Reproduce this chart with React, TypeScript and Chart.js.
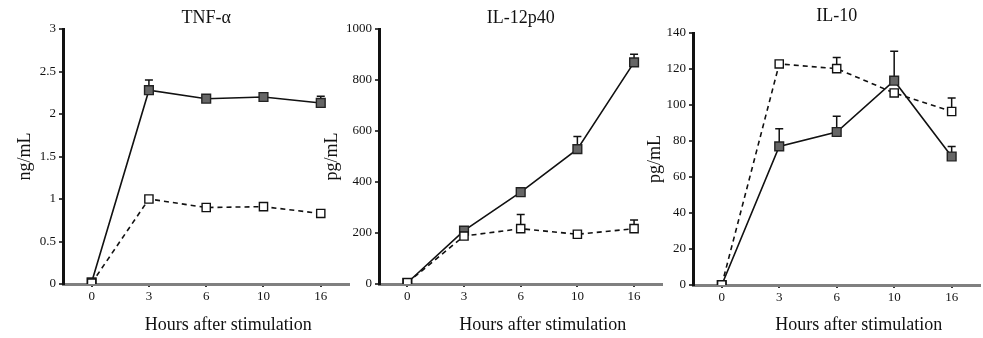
import React, { useEffect, useRef } from "react";
import { Chart, registerables } from "chart.js";
Chart.register(...registerables);

// ---- data ----
const hours = ["0", "3", "6", "10", "16"];

const tnfStimulated = [0.02, 2.28, 2.18, 2.2, 2.13];
const tnfStimulatedErr = [0, 0.12, 0, 0, 0.08];
const tnfControl = [0.01, 1.0, 0.9, 0.91, 0.83];
const tnfControlErr = [0, 0, 0, 0, 0];

const il12Stimulated = [5, 209, 360, 529, 869];
const il12StimulatedErr = [0, 0, 0, 49, 32];
const il12Control = [5, 188, 217, 195, 217];
const il12ControlErr = [0, 0, 56, 0, 34];

const il10Stimulated = [0, 77, 85, 113.5, 71.4];
const il10StimulatedErr = [0, 9.8, 8.7, 16.3, 5.6];
const il10Control = [0, 122.8, 120.2, 106.7, 96.4];
const il10ControlErr = [0, 0, 6.2, 0, 7.5];

const FONT = "'Liberation Serif', 'Times New Roman', serif";

type PanelDef = {
  title: string;
  yTitle: string;
  yMax: number;
  step: number;
  stim: number[];
  stimErr: number[];
  ctrl: number[];
  ctrlErr: number[];
  left: number;
  width: number;
  yAxisWidth: number;
  yTitlePad: number;
  xAxisHeight: number;
  titleTop: number;
  titleBottom: number;
};

const panels: PanelDef[] = [
  {
    title: "TNF-α", yTitle: "ng/mL", yMax: 3, step: 0.5,
    stim: tnfStimulated, stimErr: tnfStimulatedErr, ctrl: tnfControl, ctrlErr: tnfControlErr,
    left: 0, width: 357, yAxisWidth: 63, yTitlePad: 14, xAxisHeight: 54, titleTop: 7, titleBottom: 0.4,
  },
  {
    title: "IL-12p40", yTitle: "pg/mL", yMax: 1000, step: 200,
    stim: il12Stimulated, stimErr: il12StimulatedErr, ctrl: il12Control, ctrlErr: il12ControlErr,
    left: 300, width: 370, yAxisWidth: 79, yTitlePad: 21, xAxisHeight: 54, titleTop: 7, titleBottom: 0.4,
  },
  {
    title: "IL-10", yTitle: "pg/mL", yMax: 140, step: 20,
    stim: il10Stimulated, stimErr: il10StimulatedErr, ctrl: il10Control, ctrlErr: il10ControlErr,
    left: 625, width: 363, yAxisWidth: 68, yTitlePad: 19, xAxisHeight: 53, titleTop: 5, titleBottom: 6.4,
  },
];

const errorBarPlugin = {
  id: "errBars",
  beforeDatasetsDraw(chart: any, _args: any, opts: any) {
    const errs: number[][] = opts.errs || [];
    const ys = chart.scales.y;
    const ctx = chart.ctx;
    ctx.save();
    ctx.strokeStyle = "#111";
    ctx.lineWidth = 1.5;
    chart.data.datasets.forEach((ds: any, i: number) => {
      const meta = chart.getDatasetMeta(i);
      const e = errs[i] || [];
      meta.data.forEach((pt: any, j: number) => {
        if (!e[j]) return;
        const top = ys.getPixelForValue(ds.data[j] + e[j]);
        ctx.beginPath();
        ctx.moveTo(pt.x, pt.y);
        ctx.lineTo(pt.x, top);
        ctx.moveTo(pt.x - 4, top);
        ctx.lineTo(pt.x + 4, top);
        ctx.stroke();
      });
    });
    ctx.restore();
  },
};

const xTitlePlugin = {
  id: "xTitle",
  afterDraw(chart: any, _args: any, opts: any) {
    const ctx = chart.ctx;
    const a = chart.chartArea;
    ctx.save();
    ctx.fillStyle = "#111";
    ctx.font = `18px ${FONT}`;
    ctx.textAlign = "center";
    ctx.textBaseline = "middle";
    ctx.fillText(opts.text, (a.left + a.right) / 2 + opts.dx, opts.y);
    ctx.restore();
  },
};

function Panel({ p }: { p: PanelDef }) {
  const ref = useRef<HTMLCanvasElement>(null);
  useEffect(() => {
    if (!ref.current) return;
    const chart = new Chart(ref.current, {
      type: "line",
      data: {
        labels: hours,
        datasets: [
          {
            label: "control",
            data: p.ctrl,
            borderColor: "#111",
            borderWidth: 1.6,
            borderDash: [5, 4],
            pointStyle: "rect",
            pointRadius: 5.8,
            pointBackgroundColor: "#fff",
            pointBorderColor: "#111",
            pointBorderWidth: 1.4,
            tension: 0,
          },
          {
            label: "stimulated",
            data: p.stim,
            borderColor: "#111",
            borderWidth: 1.6,
            pointStyle: "rect",
            pointRadius: 6.2,
            pointBackgroundColor: "#666",
            pointBorderColor: "#222",
            pointBorderWidth: 1.4,
            tension: 0,
          },
        ],
      },
      options: {
        animation: false,
        responsive: false,
        maintainAspectRatio: false,
        layout: { padding: 0 },
        plugins: {
          legend: { display: false },
          tooltip: { enabled: false },
          title: {
            display: true,
            text: p.title,
            fullSize: false,
            color: "#111",
            font: { family: FONT, size: 18, weight: "normal" },
            padding: { top: p.titleTop, bottom: p.titleBottom },
          },
          errBars: { errs: [p.ctrlErr, p.stimErr] },
          xTitle: { text: "Hours after stimulation", dx: 22, y: 325 },
        } as any,
        scales: {
          x: {
            type: "category",
            offset: true,
            afterFit: (s: any) => { s.height = p.xAxisHeight; },
            border: { display: true, color: "#808080", width: 3 },
            grid: { display: true, drawOnChartArea: false, drawTicks: true, tickLength: 3, color: "#333", lineWidth: 2 },
            ticks: { color: "#111", font: { family: FONT, size: 13 }, padding: 2, maxRotation: 0 },
          },
          y: {
            min: 0,
            max: p.yMax,
            afterFit: (s: any) => { s.width = p.yAxisWidth; },
            border: { display: true, color: "#111", width: 3 },
            grid: { display: true, drawOnChartArea: false, drawTicks: true, tickLength: 4, color: "#444", lineWidth: 2 },
            ticks: {
              stepSize: p.step,
              color: "#111",
              font: { family: FONT, size: 13 },
              padding: 3,
              callback: (v: any) => String(v),
            },
            title: {
              display: true,
              text: p.yTitle,
              color: "#111",
              font: { family: FONT, size: 18 },
              padding: { top: p.yTitlePad, bottom: 0 },
            },
          },
        },
      },
      plugins: [errorBarPlugin, xTitlePlugin],
    });
    return () => chart.destroy();
  }, [p]);
  return (
    <canvas
      ref={ref}
      width={p.width}
      height={338}
      style={{ position: "absolute", left: p.left, top: 0, width: p.width, height: 338 }}
    />
  );
}

export default function App() {
  return (
    <div
      style={{
        position: "fixed",
        left: 0,
        top: 0,
        width: 983,
        height: 338,
        overflow: "hidden",
        background: "#fff",
      }}
    >
      {panels.map((p) => (
        <Panel key={p.title} p={p} />
      ))}
    </div>
  );
}
